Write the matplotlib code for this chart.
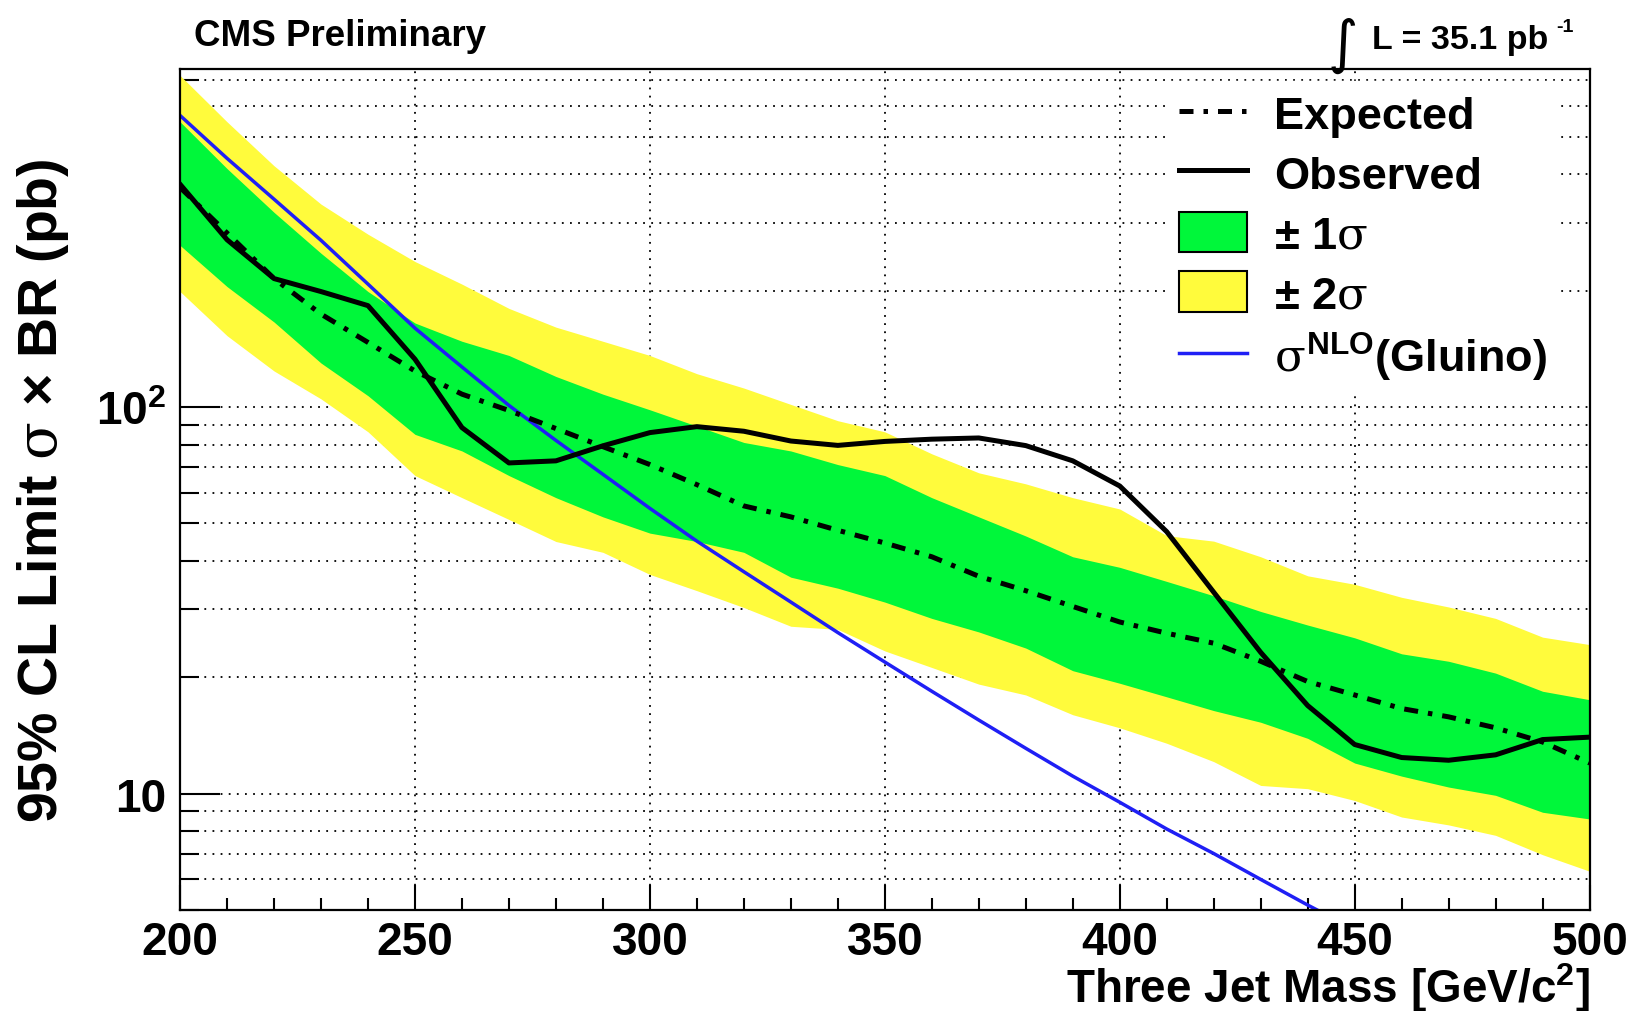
import numpy as np
import matplotlib
matplotlib.use('Agg')
import matplotlib.pyplot as plt
from matplotlib.lines import Line2D
from matplotlib.patches import Patch
from matplotlib.ticker import MultipleLocator, FixedLocator, FixedFormatter, NullFormatter

# fonts: helvetica-like bold text, thin serif greek (like ROOT's symbol font)
plt.rcParams['font.family'] = ['Liberation Sans', 'DejaVu Sans']
plt.rcParams['font.weight'] = 'bold'
plt.rcParams['mathtext.fontset'] = 'custom'
plt.rcParams['mathtext.rm'] = 'Liberation Sans:bold'
plt.rcParams['mathtext.bf'] = 'Liberation Sans:bold'
plt.rcParams['mathtext.it'] = 'DejaVu Serif:weight=normal'

# three jet mass points (GeV/c^2)
mass = [200, 210, 220, 230, 240, 250, 260, 270, 280, 290, 300, 310, 320, 330, 340, 350,
        360, 370, 380, 390, 400, 410, 420, 430, 440, 450, 460, 470, 480, 490, 500]

# 95% CL limits (pb)
observed = [377, 271, 215, 199, 183, 133, 88.5, 71.7, 72.6, 79.4, 85.9, 89.0, 86.6, 81.7,
            79.6, 81.5, 82.6, 83.2, 79.5, 72.6, 62.5, 47.6, 33.2, 23.2, 16.9, 13.4, 12.4,
            12.2, 12.6, 13.8, 14.0]
expected = [370, 282, 215, 174, 147, 124, 108, 98, 88, 79, 71, 63, 55.5, 52, 48, 44.5,
            41, 36.5, 33.5, 30.5, 27.8, 26, 24.5, 22, 19.5, 18, 16.6, 15.8, 14.8, 13.6, 12.0]
one_sig_up = [547, 414, 319, 250, 199, 165, 148, 136, 120, 108, 98.4, 89.3, 81, 77, 71,
              66.5, 58.3, 52, 46.4, 41, 38.5, 35.4, 32.5, 29.6, 27.3, 25.3, 23, 22, 20.5,
              18.4, 17.5]
one_sig_dn = [262, 205, 166, 130, 107, 85, 77, 66.5, 58.3, 52, 47.2, 44.9, 42.1, 36.3, 34,
              31.3, 28.4, 26.2, 23.8, 20.8, 19.3, 17.8, 16.4, 15.3, 13.9, 12.0, 11.1, 10.4,
              9.9, 8.95, 8.6]
two_sig_up = [721, 547, 421, 335, 280, 238, 208, 180, 161, 148, 136, 122, 112, 101.6, 92.2,
              86.3, 75.7, 67.6, 63.3, 58.3, 54.5, 46.5, 45, 41, 36.6, 34.8, 32.2, 30.4,
              28.4, 25.4, 24.3]
two_sig_dn = [199, 153, 124, 105, 86.3, 66.5, 58.3, 51.2, 44.9, 42.1, 36.9, 33.5, 30.3,
              27.1, 26.6, 23.4, 21.2, 19.2, 18, 16, 14.8, 13.5, 12.1, 10.5, 10.3, 9.6, 8.7,
              8.3, 7.8, 6.95, 6.3]

# NLO gluino cross section (pb)
gluino_mass = [200, 210, 220, 230, 240, 250, 260, 270, 280, 290, 300, 310, 320, 330, 340,
               350, 360, 370, 380, 390, 400, 410, 420, 430, 440, 450]
gluino_xsec = [568, 440, 345, 270, 208, 160, 127, 101, 82, 67, 54.7, 45, 37.5, 31.3, 26.1,
               21.9, 18.4, 15.5, 13.1, 11.1, 9.5, 8.1, 7.0, 6.0, 5.15, 4.45]

green = '#00F73A'
yellow = '#FFFB3C'
blue = '#1F1FF5'
dashdot = (0, (2.8, 2.0, 0.9, 2.0))

fig = plt.figure(figsize=(16.31, 10.12), dpi=100)
ax = fig.add_axes([0.1104, 0.0998, 0.8642, 0.8312])

ax.fill_between(mass, two_sig_dn, two_sig_up, color=yellow, lw=0, zorder=1)
ax.fill_between(mass, one_sig_dn, one_sig_up, color=green, lw=0, zorder=1.2)
ax.plot(gluino_mass, gluino_xsec, color=blue, lw=2.5, zorder=3)
ax.plot(mass, expected, color='black', lw=3.6, ls=dashdot, zorder=3.5)
ax.plot(mass, observed, color='black', lw=3.6, zorder=4)

ax.set_yscale('log')
ax.set_xlim(200, 500)
ax.set_ylim(5, 750)

ax.xaxis.set_major_locator(MultipleLocator(50))
ax.xaxis.set_minor_locator(MultipleLocator(10))
ax.yaxis.set_major_locator(FixedLocator([10, 100]))
ax.yaxis.set_major_formatter(FixedFormatter(['10', r'$10^{2}$']))
ax.yaxis.set_minor_locator(FixedLocator([5, 6, 7, 8, 9, 20, 30, 40, 50, 60, 70, 80, 90,
                                         200, 300, 400, 500, 600, 700]))
ax.yaxis.set_minor_formatter(NullFormatter())

ax.set_axisbelow(True)
ax.grid(which='major', axis='x', color='black', ls=(0, (1, 3.5)), lw=1.3)
ax.grid(which='both', axis='y', color='black', ls=(0, (1, 3.5)), lw=1.3)

ax.tick_params(axis='x', which='major', direction='in', length=18, width=1.5,
               labelsize=33, pad=7)
ax.tick_params(axis='x', which='minor', direction='in', length=9, width=1.5)
ax.tick_params(axis='y', which='major', direction='in', length=29, width=1.5,
               labelsize=33, pad=10)
ax.tick_params(axis='y', which='minor', direction='in', length=14, width=1.5)
for lab in ax.get_xticklabels() + ax.get_yticklabels():
    lab.set_fontweight('bold')
for sp in ax.spines.values():
    sp.set_linewidth(1.6)
    sp.set_zorder(5)

ax.text(1.0, -0.092, r'Three Jet Mass [GeV/c$^{2}$]', transform=ax.transAxes,
        ha='right', va='center', fontsize=33)
ax.text(-0.097, 0.5, r'95% CL Limit $\sigma$ × BR (pb)', transform=ax.transAxes,
        rotation=90, ha='center', va='center', fontsize=40)

fig.text(194 / 1631, 1 - 36 / 1012, 'CMS Preliminary', ha='left', va='center', fontsize=26.5)
fig.text(1343 / 1631, 1 - 46 / 1012, '∫', family='DejaVu Sans', fontweight='normal',
         ha='center', va='center', fontsize=42)
fig.text(1372 / 1631, 1 - 40 / 1012, 'L = 35.1 pb', ha='left', va='center', fontsize=24.5)
fig.text(1556 / 1631, 1 - 28 / 1012, '-1', ha='left', va='center', fontsize=14)

handles = [
    Line2D([], [], color='black', lw=3.6, ls=dashdot),
    Line2D([], [], color='black', lw=3.6),
    Patch(facecolor=green, edgecolor='black', lw=1.5),
    Patch(facecolor=yellow, edgecolor='black', lw=1.5),
    Line2D([], [], color=blue, lw=2.5),
]
labels = ['Expected', 'Observed', r'± 1$\sigma$', r'± 2$\sigma$',
          r'$\sigma^{\mathrm{NLO}}$(Gluino)']
leg = ax.legend(handles, labels, loc='upper left', bbox_to_anchor=(0.701, 0.985),
                borderaxespad=0, borderpad=0.25, frameon=True, fancybox=False,
                facecolor='white', edgecolor='white', framealpha=1,
                handlelength=1.5, handleheight=1.0, handletextpad=0.6,
                labelspacing=0.33, prop={'size': 32.5, 'weight': 'bold'})
leg.set_zorder(10)

fig.savefig('out.png', dpi=100)
